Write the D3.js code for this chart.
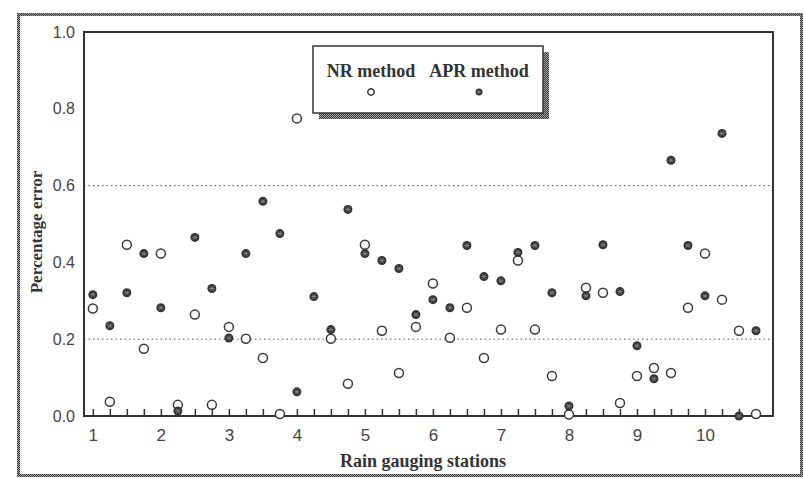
<!DOCTYPE html>
<html>
<head>
<meta charset="utf-8">
<script src="https://cdn.jsdelivr.net/npm/d3@7"></script>
<style>
	body { margin: 0; background: #fff; }
	svg { display: block; }
</style>
</head>
<body>
<svg id="chart" width="805" height="478"></svg>
<script>
'use strict'

/* ================================ Data ================================ */
// station positions, a quarter step apart (4 gauges per labelled station)
var stations = [1, 1.25, 1.5, 1.75, 2, 2.25, 2.5, 2.75, 3, 3.25, 3.5, 3.75, 4, 4.25, 4.5, 4.75,
	5, 5.25, 5.5, 5.75, 6, 6.25, 6.5, 6.75, 7, 7.25, 7.5, 7.75, 8, 8.25, 8.5, 8.75,
	9, 9.25, 9.5, 9.75, 10, 10.25, 10.5, 10.75];

// NR method percentage error (null = not visible)
var nrError = [0.28, 0.037, 0.446, 0.175, 0.423, 0.029, 0.264, 0.029, 0.232, 0.201, 0.151, 0.005, 0.775, null, 0.201, 0.084,
	0.446, 0.222, 0.112, 0.232, 0.345, 0.204, 0.282, 0.151, 0.225, 0.405, 0.225, 0.104, 0.004, 0.334, 0.321, 0.034,
	0.104, 0.125, 0.112, 0.282, 0.423, 0.303, 0.222, 0.005];

// APR method percentage error
var aprError = [0.316, 0.235, 0.321, 0.423, 0.282, 0.013, 0.465, 0.332, 0.203, 0.423, 0.559, 0.475, 0.063, 0.311, 0.225, 0.538,
	0.423, 0.405, 0.384, 0.264, 0.303, 0.282, 0.444, 0.363, 0.352, 0.426, 0.444, 0.321, 0.026, 0.313, 0.446, 0.324,
	0.183, 0.097, 0.666, 0.444, 0.313, 0.736, 0.0, 0.222];

var yTicks = [0, 0.2, 0.4, 0.6, 0.8, 1.0];
var gridLines = [0.2, 0.6];
var xLabels = [1, 2, 3, 4, 5, 6, 7, 8, 9, 10];
var seriesNames = ["NR method", "APR method"];

/* ====================================== Layout ====================================== */
var plot = { left: 84, top: 32, right: 773, bottom: 416 };
var ink = "#333";

var svg = d3.select("#chart");

var x = d3.scaleLinear().domain([0.87, 11.0]).range([plot.left, plot.right]);
var y = d3.scaleLinear().domain([0, 1]).range([plot.bottom, plot.top]);

// checker pattern used for the scanned-looking frame and legend shadow
var defs = svg.append("defs");
var pat = defs.append("pattern").attr("id", "checker")
	.attr("width", 2).attr("height", 2).attr("patternUnits", "userSpaceOnUse");
pat.append("rect").attr("width", 2).attr("height", 2).attr("fill", "#a8a8a8");
pat.append("rect").attr("width", 1).attr("height", 1).attr("fill", "#333");
pat.append("rect").attr("x", 1).attr("y", 1).attr("width", 1).attr("height", 1).attr("fill", "#333");

/* ==================================== Outer frame ==================================== */
svg.append("rect")
	.attr("x", 18.5).attr("y", 14.5).attr("width", 783).attr("height", 461)
	.attr("fill", "none").attr("stroke", "url(#checker)").attr("stroke-width", 3);

/* =================================== Grid and axes =================================== */
svg.append("g").selectAll("line")
	.data(gridLines).enter()
	.append("line")
	.attr("x1", plot.left).attr("x2", plot.right)
	.attr("y1", function(d) { return y(d); }).attr("y2", function(d) { return y(d); })
	.attr("stroke", "#555").attr("stroke-width", 1).attr("stroke-dasharray", "1.5,3");

// plot box
svg.append("rect")
	.attr("x", plot.left).attr("y", plot.top)
	.attr("width", plot.right - plot.left).attr("height", plot.bottom - plot.top)
	.attr("fill", "none").attr("stroke", ink).attr("stroke-width", 2);

// x axis: quarter ticks pointing up, labels only on whole stations
var xAxis = d3.axisBottom(x)
	.tickValues(d3.range(1, 10.8, 0.25))
	.tickSize(-7)
	.tickPadding(13)
	.tickFormat(function(d) { return xLabels.indexOf(d) >= 0 ? d : ""; });

var gx = svg.append("g").attr("transform", "translate(0," + plot.bottom + ")").call(xAxis);
gx.select(".domain").remove();
gx.selectAll("line").attr("stroke", ink).attr("stroke-width", 1.5);
gx.selectAll("text").attr("fill", "#444").style("font", "17px 'Liberation Sans', Arial, sans-serif");

var yAxis = d3.axisLeft(y)
	.tickValues(yTicks)
	.tickSize(0)
	.tickPadding(8)
	.tickFormat(d3.format(".1f"));

var gy = svg.append("g").attr("transform", "translate(" + (plot.left - 1) + ",0)").call(yAxis);
gy.select(".domain").remove();
gy.selectAll("text").attr("fill", "#444").style("font", "16px 'Liberation Sans', Arial, sans-serif");

// axis titles
svg.append("text")
	.attr("x", 423).attr("y", 467)
	.attr("text-anchor", "middle")
	.attr("fill", ink)
	.style("font", "bold 18px 'Liberation Serif', 'Times New Roman', serif")
	.text("Rain gauging stations");

svg.append("text")
	.attr("transform", "translate(42,232) rotate(-90)")
	.attr("text-anchor", "middle")
	.attr("fill", ink)
	.style("font", "bold 17px 'Liberation Serif', 'Times New Roman', serif")
	.text("Percentage error");

/* ====================================== Markers ====================================== */
function drawApr(sel, r) {
	sel.append("circle").attr("r", r).attr("fill", "#353535");
	// lighter star pattern inside the filled dots
	sel.append("path")
		.attr("d", "M" + (-r * 0.6) + ",0H" + (r * 0.6) +
			"M" + (-r * 0.35) + "," + (-r * 0.5) + "L" + (r * 0.35) + "," + (r * 0.5) +
			"M" + (-r * 0.35) + "," + (r * 0.5) + "L" + (r * 0.35) + "," + (-r * 0.5))
		.attr("stroke", "#8a8a8a").attr("stroke-width", 0.8).attr("fill", "none");
}

function drawNr(sel, r) {
	sel.append("circle").attr("r", r)
		.attr("fill", "#fff").attr("stroke", "#3a3a3a").attr("stroke-width", 1.5);
}

var nrPoints = stations.map(function(s, i) { return { x: s, v: nrError[i] }; })
	.filter(function(d) { return d.v !== null; });
var aprPoints = stations.map(function(s, i) { return { x: s, v: aprError[i] }; });

svg.append("g").selectAll("g")
	.data(nrPoints).enter()
	.append("g")
	.attr("transform", function(d) { return "translate(" + x(d.x) + "," + y(d.v) + ")"; })
	.call(drawNr, 4.5);

svg.append("g").selectAll("g")
	.data(aprPoints).enter()
	.append("g")
	.attr("transform", function(d) { return "translate(" + x(d.x) + "," + y(d.v) + ")"; })
	.call(drawApr, 4.5);

/* ====================================== Legend ====================================== */
var legend = svg.append("g").attr("transform", "translate(313,46)");
legend.append("rect")
	.attr("x", 6).attr("y", 6).attr("width", 230).attr("height", 67)
	.attr("fill", "url(#checker)");
legend.append("rect")
	.attr("width", 230).attr("height", 67)
	.attr("fill", "#fff").attr("stroke", ink).attr("stroke-width", 1.5);

var legendX = [58, 166];
legend.selectAll("text")
	.data(seriesNames).enter()
	.append("text")
	.attr("x", function(d, i) { return legendX[i]; })
	.attr("y", 31)
	.attr("text-anchor", "middle")
	.attr("fill", ink)
	.style("font", "bold 18px 'Liberation Serif', 'Times New Roman', serif")
	.text(function(d) { return d; });

legend.append("g").attr("transform", "translate(" + legendX[0] + ",46)").call(drawNr, 3.2);
legend.append("g").attr("transform", "translate(" + legendX[1] + ",46)").call(drawApr, 3.5);
</script>
</body>
</html>
